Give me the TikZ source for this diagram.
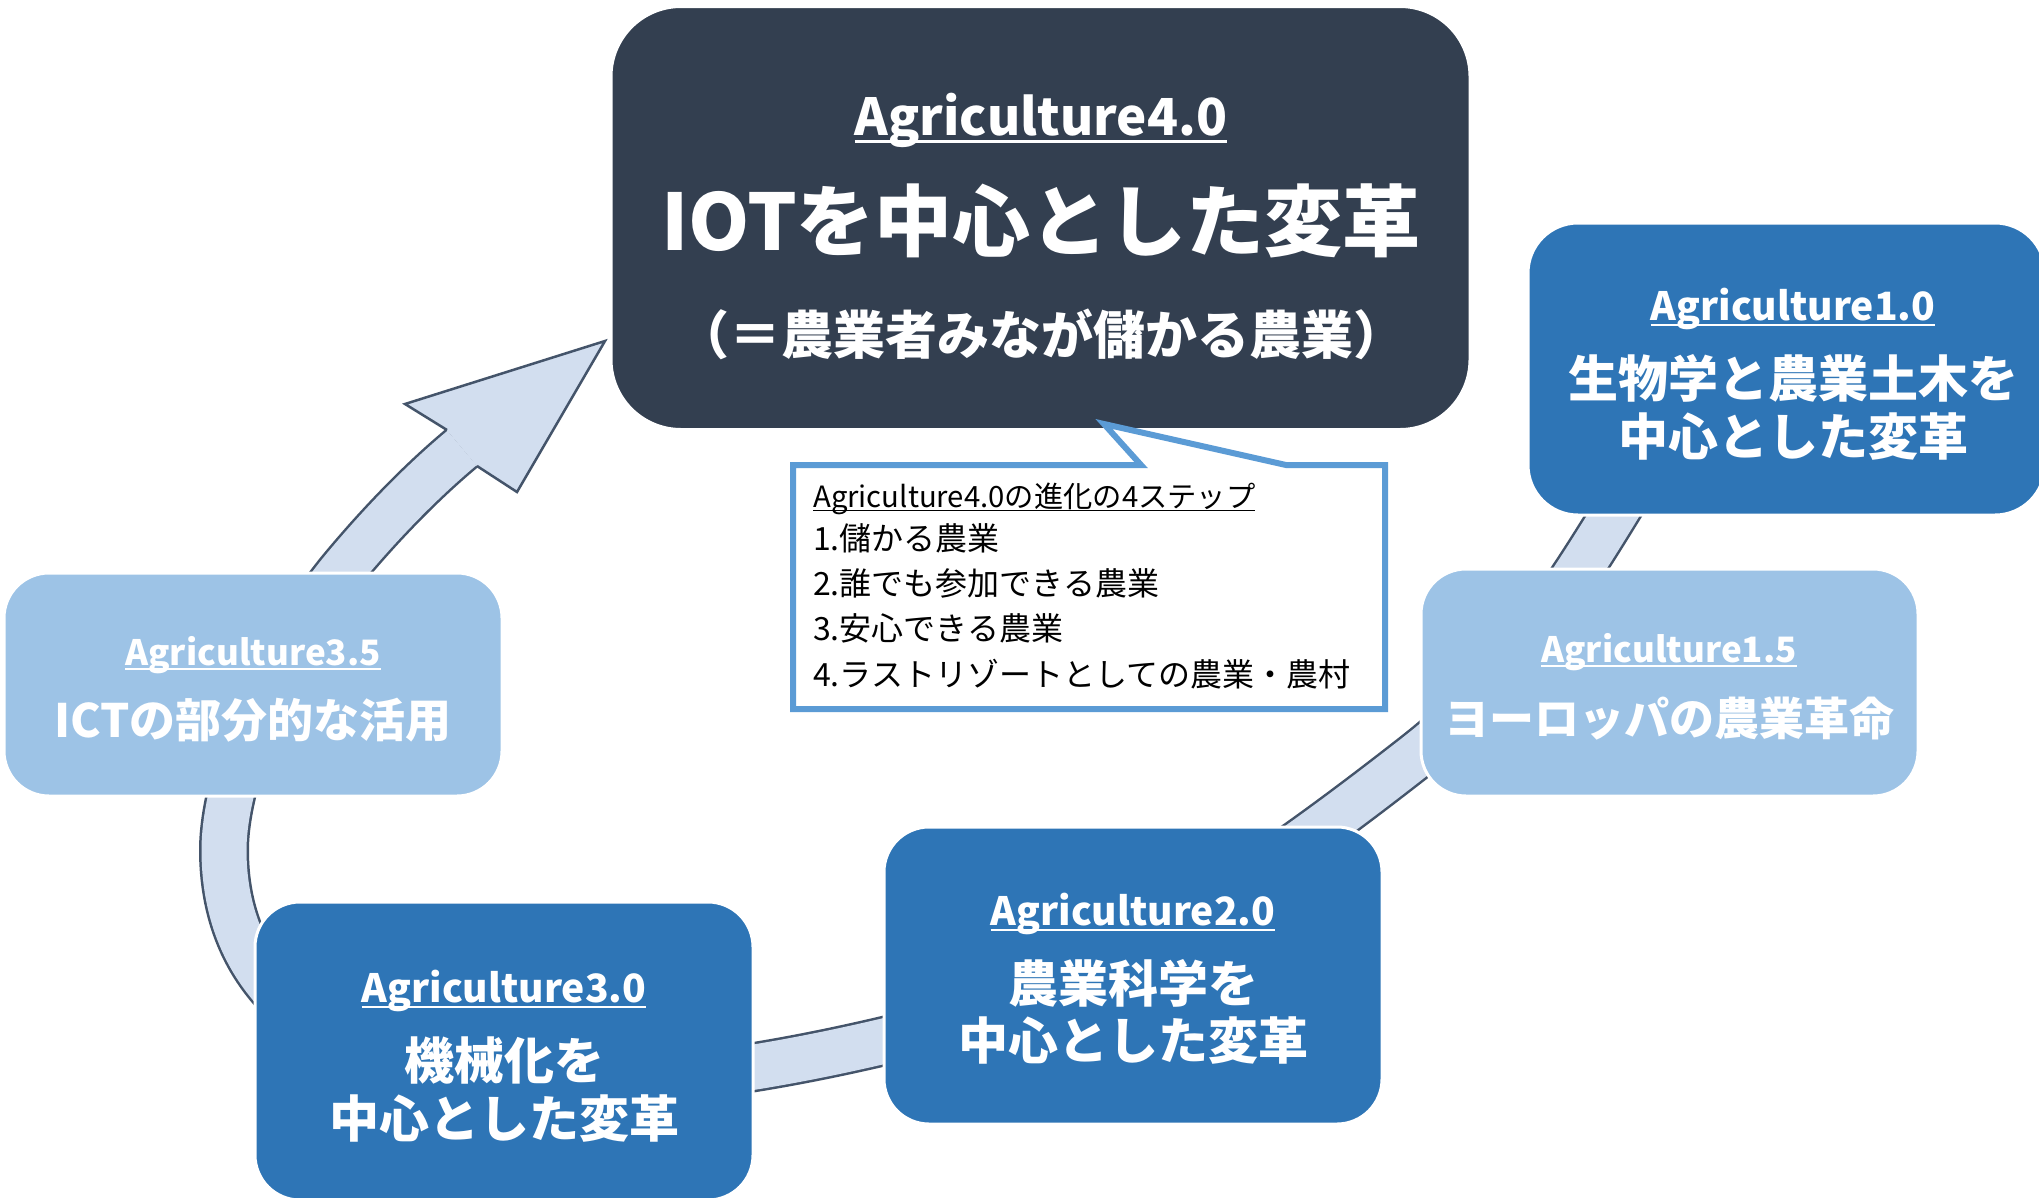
\documentclass[tikz,border=0pt]{standalone}
\usepackage{fontspec}
\setmainfont{Noto Sans CJK JP}
\definecolor{darkbox}{RGB}{51,63,80}
\definecolor{midblue}{RGB}{46,117,182}
\definecolor{lightblue}{RGB}{157,195,230}
\definecolor{ringfill}{RGB}{210,222,239}
\definecolor{ringline}{RGB}{68,84,106}
\definecolor{callline}{RGB}{91,155,213}
\newcommand{\ulin}[1]{\leavevmode\setbox0=\hbox{#1}\rlap{\rule[-0.15em]{\wd0}{0.06em}}\box0}
\newcommand{\fsz}[1]{\fontsize{#1}{#1}\selectfont}
\begin{document}
\begin{tikzpicture}[x=1pt,y=-1pt,
  stage/.style={rectangle, draw=white, line width=3pt, inner sep=0pt},
  lbl/.style={anchor=base, text=white, inner sep=0pt},
  ctext/.style={anchor=base west, text=black, inner sep=0pt},
  ring/.style={ringline, line width=2.5pt, double=ringfill, double distance=45pt},
]
\useasboundingbox (0,0) rectangle (2039,1197);
\fill[white] (0,0) rectangle (2039,1197);

% ring arrow
\coordinate (rs) at (1658,442);
\coordinate (re) at (462,448);
\draw[ring] (rs) .. controls (1575,579) and (1520,674) .. (1417,755)
  .. controls (1243,891) and (1094,992) .. (880,1042)
  .. controls (421,1149) and (224,1040) .. (224,850)
  .. controls (224,774) and (278,647) .. (344,568)
  .. controls (379,526) and (420,483) .. (re);
\coordinate (hn1) at (447,430);
\coordinate (hb1) at (405,404);
\coordinate (htip) at (605,341);
\coordinate (hb2) at (517,492);
\coordinate (hn2) at (477,466);
\fill[ringfill] (hn1) -- (hb1) -- (htip) -- (hb2) -- (hn2) -- cycle;
\draw[ringline, line width=2.5pt, line join=miter] (hn1) -- (hb1) -- (htip) -- (hb2) -- (hn2);

% boxes
\node[stage, fill=darkbox, rounded corners=70pt, minimum width=859pt, minimum height=423pt] (main) at (1040.5,218) {};
\node[stage, fill=midblue, rounded corners=50pt, minimum width=517pt, minimum height=292pt] (b10) at (1786.5,369) {};
\node[stage, fill=lightblue, rounded corners=45pt, minimum width=497pt, minimum height=227pt] (b15) at (1669.5,682.5) {};
\node[stage, fill=midblue, rounded corners=45pt, minimum width=498pt, minimum height=297pt] (b20) at (1133,975.5) {};
\node[stage, fill=midblue, rounded corners=45pt, minimum width=498pt, minimum height=298pt] (b30) at (504,1051) {};
\node[stage, fill=lightblue, rounded corners=45pt, minimum width=498pt, minimum height=223pt] (b35) at (253,684.5) {};

% main texts
\node[lbl, font={\bfseries\fsz{51}}] (m1) at (1041,135) {\ulin{Agriculture4.0}};
\node[lbl, font={\bfseries\fsz{78}}] (m2) at (1041,250) {IOTを中心とした変革};
\node[lbl, font={\bfseries\fsz{52}}] (m3) at (1041,354) {（＝農業者みなが儲かる農業）};

% 1.0
\node[lbl, font={\bfseries\fsz{39}}] (a1) at (1793,320) {\ulin{Agriculture1.0}};
\node[lbl, font={\bfseries\fsz{50}}] (a2) at (1793,397) {生物学と農業土木を};
\node[lbl, font={\bfseries\fsz{50}}] (a3) at (1793,455) {中心とした変革};

% 1.5
\node[lbl, font={\bfseries\fsz{35}}] (c1) at (1669,662) {\ulin{Agriculture1.5}};
\node[lbl, font={\bfseries\fsz{45}}] (c2) at (1669,735) {ヨーロッパの農業革命};

% 2.0
\node[lbl, font={\bfseries\fsz{39}}] (d1) at (1133,925) {\ulin{Agriculture2.0}};
\node[lbl, font={\bfseries\fsz{50}}] (d2) at (1133,1002) {農業科学を};
\node[lbl, font={\bfseries\fsz{50}}] (d3) at (1133,1059) {中心とした変革};

% 3.0
\node[lbl, font={\bfseries\fsz{39}}] (e1) at (504,1002) {\ulin{Agriculture3.0}};
\node[lbl, font={\bfseries\fsz{50}}] (e2) at (504,1079) {機械化を};
\node[lbl, font={\bfseries\fsz{50}}] (e3) at (504,1137) {中心とした変革};

% 3.5
\node[lbl, font={\bfseries\fsz{35}}] (f1) at (253,665) {\ulin{Agriculture3.5}};
\node[lbl, font={\bfseries\fsz{46}}] (f2) at (253,737) {ICTの部分的な活用};

% callout
\draw[callline, line width=6pt, fill=white, line join=miter] (793,465) -- (1141,465) -- (1104,424) -- (1286,465) -- (1385,465) -- (1385,709) -- (793,709) -- cycle;
\node[ctext, font={\fsz{29.3}}] (k0) at (813,507) {\ulin{Agriculture4.0の進化の4ステップ}};
\node[ctext, font={\fsz{32}}] (k1) at (813,550) {1.儲かる農業};
\node[ctext, font={\fsz{32}}] (k2) at (813,595) {2.誰でも参加できる農業};
\node[ctext, font={\fsz{32}}] (k3) at (813,640) {3.安心できる農業};
\node[ctext, font={\fsz{32}}] (k4) at (813,686) {4.ラストリゾートとしての農業・農村};
\end{tikzpicture}
\end{document}
